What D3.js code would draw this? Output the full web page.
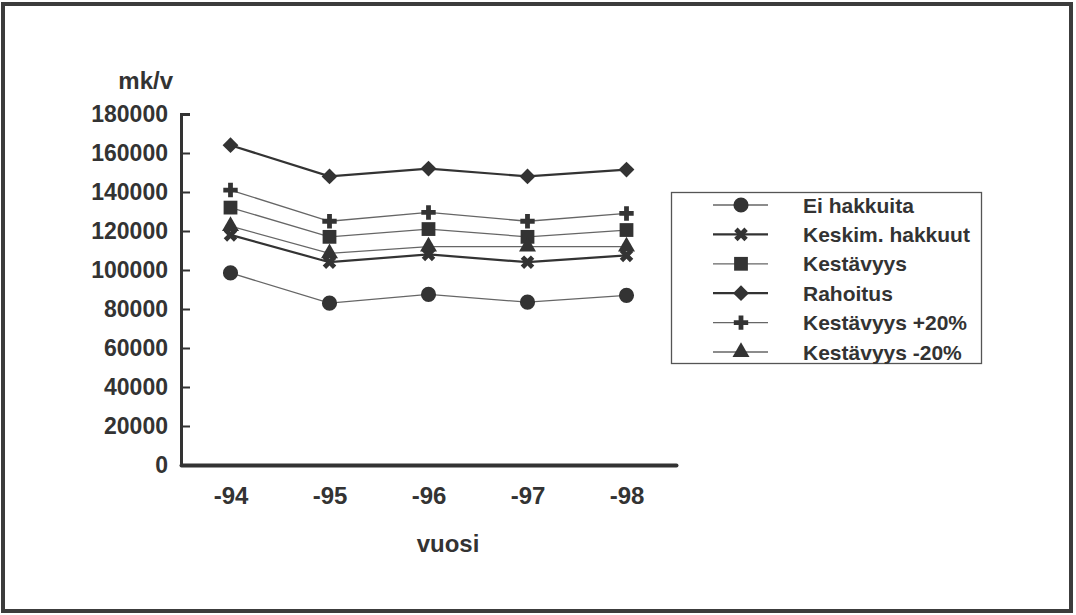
<!DOCTYPE html>
<html>
<head>
<meta charset="utf-8">
<script src="https://cdn.jsdelivr.net/npm/d3@7"></script>
<style>
  html, body { margin: 0; padding: 0; background: #fff; }
  svg { display: block; }
  text { font-family: "Liberation Sans", Arial, Helvetica, sans-serif; font-weight: bold; fill: #333; }
</style>
</head>
<body>
<svg id="chart" width="1076" height="615"></svg>
<script>
// ---- data ----
const years = ["-94", "-95", "-96", "-97", "-98"];
const seriesNames = ["Ei hakkuita", "Keskim. hakkuut", "Kestävyys", "Rahoitus", "Kestävyys +20%", "Kestävyys -20%"];
const eiHakkuita     = [98500, 83000, 87500, 83500, 87000];
const keskimHakkuut  = [118000, 104000, 108000, 104000, 107500];
const kestavyys      = [132000, 117000, 121000, 117000, 120500];
const rahoitus       = [164000, 148000, 152000, 148000, 151500];
const kestavyysPlus  = [141000, 125000, 129500, 125000, 129000];
const kestavyysMinus = [122500, 108500, 112000, 112000, 112000];
const yTicks = [0, 20000, 40000, 60000, 80000, 100000, 120000, 140000, 160000, 180000];
const yTitle = "mk/v";
const xTitle = "vuosi";

const seriesValues = [eiHakkuita, keskimHakkuut, kestavyys, rahoitus, kestavyysPlus, kestavyysMinus];

// ---- styles ----
const markerDefs = [
  { type: d3.symbolCircle,   size: 180, rotate: 0 },
  { type: d3.symbolCross,    size: 115, rotate: 45 },
  { type: d3.symbolSquare,   size: 190, rotate: 0 },
  { type: d3.symbolSquare,   size: 125, rotate: 45 },
  { type: d3.symbolCross,    size: 115, rotate: 0 },
  { type: d3.symbolTriangle, size: 125, rotate: 0 }
];
const lineStyles = [
  { stroke: "#666", width: 1.3 },
  { stroke: "#333", width: 2.2 },
  { stroke: "#666", width: 1.3 },
  { stroke: "#333", width: 2.2 },
  { stroke: "#666", width: 1.3 },
  { stroke: "#666", width: 1.3 }
];
const ink = "#333";

const svg = d3.select("#chart");

// outer frame
svg.append("rect")
  .attr("x", 3).attr("y", 4).attr("width", 1068).attr("height", 607)
  .attr("fill", "none").attr("stroke", "#3c3c3c").attr("stroke-width", 4);

// scales
const x = d3.scalePoint().domain(years).range([181, 676]).padding(0.5);
const y = d3.scaleLinear().domain([0, 180000]).range([465, 114]);

// y axis
const yAxis = d3.axisLeft(y).tickValues(yTicks).tickSize(-9).tickPadding(22).tickFormat(d3.format("d"));
const gy = svg.append("g").attr("transform", "translate(181,0)").call(yAxis);
gy.select(".domain").attr("stroke", ink).attr("stroke-width", 3);
gy.selectAll(".tick line").attr("stroke", ink).attr("stroke-width", 2);
gy.selectAll(".tick text").attr("font-size", 23).attr("fill", ink)
  .style("font-family", "'Liberation Sans', Arial, sans-serif").style("font-weight", "bold")
  .attr("x", -13);

// x axis
const xAxis = d3.axisBottom(x).tickSize(0).tickPadding(22);
const gx = svg.append("g").attr("transform", "translate(0,465)").call(xAxis);
gx.select(".domain").attr("stroke", ink).attr("stroke-width", 4).attr("stroke-linecap", "round");
gx.selectAll(".tick text").attr("font-size", 24).attr("fill", ink)
  .style("font-family", "'Liberation Sans', Arial, sans-serif").style("font-weight", "bold");

// axis titles
svg.append("text").attr("x", 173).attr("y", 89).attr("text-anchor", "end")
  .attr("font-size", 24).text(yTitle);
svg.append("text").attr("x", 448).attr("y", 552).attr("text-anchor", "middle")
  .attr("font-size", 24).text(xTitle);

// lines & markers
const line = d3.line().x((d, i) => x(years[i])).y(d => y(d));
seriesValues.forEach((vals, si) => {
  const st = lineStyles[si];
  svg.append("path").datum(vals)
    .attr("d", line).attr("fill", "none")
    .attr("stroke", st.stroke).attr("stroke-width", st.width);
});
seriesValues.forEach((vals, si) => {
  const m = markerDefs[si];
  svg.append("g").selectAll("path").data(vals).join("path")
    .attr("d", d3.symbol().type(m.type).size(m.size))
    .attr("transform", (d, i) => `translate(${x(years[i])},${y(d)}) rotate(${m.rotate})`)
    .attr("fill", ink);
});

// legend
const lg = svg.append("g");
lg.append("rect").attr("x", 671.5).attr("y", 192.5).attr("width", 310).attr("height", 171)
  .attr("fill", "#fff").attr("stroke", "#555").attr("stroke-width", 1.3);
seriesNames.forEach((name, si) => {
  const cy = 205 + si * 29.4;
  const st = lineStyles[si];
  const m = markerDefs[si];
  lg.append("line").attr("x1", 713).attr("x2", 768).attr("y1", cy).attr("y2", cy)
    .attr("stroke", st.stroke).attr("stroke-width", st.width);
  lg.append("path").attr("d", d3.symbol().type(m.type).size(m.size))
    .attr("transform", `translate(741,${cy}) rotate(${m.rotate})`).attr("fill", ink);
  lg.append("text").attr("x", 803).attr("y", cy).attr("dy", "0.36em")
    .attr("font-size", 21).text(name);
});
</script>
</body>
</html>
